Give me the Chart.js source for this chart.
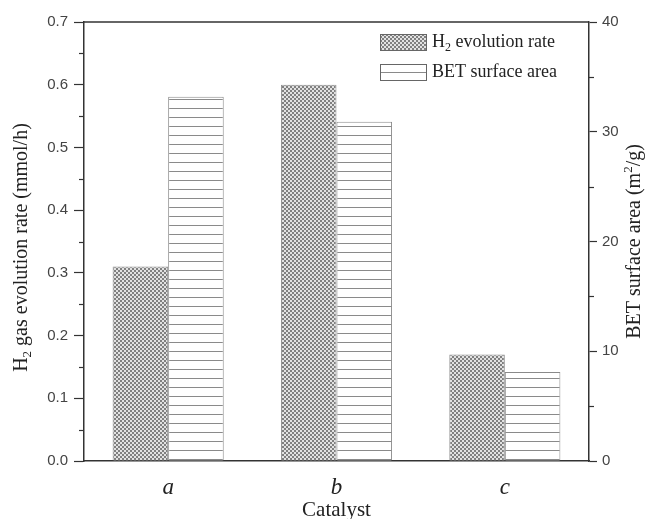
<!DOCTYPE html>
<html>
<head>
<meta charset="utf-8">
<script src="https://cdn.jsdelivr.net/npm/chart.js@4.4.1/dist/chart.umd.min.js"></script>
<style>body{margin:0;background:#fff}</style>
</head>
<body>
<canvas id="grafica" width="653" height="519"></canvas>
<script>
// datos
const catalizadores = ['a', 'b', 'c'];
const tasaH2 = [0.31, 0.60, 0.17];
const areaBET = [33.2, 30.9, 8.1];
const menoresIzq = [0.05, 0.15, 0.25, 0.35, 0.45, 0.55, 0.65];
const menoresDer = [5, 15, 25, 35];

const serif = '"Liberation Serif", "Times New Roman", serif';
const sans = '"Liberation Sans", Arial, sans-serif';

function patronCuadros() {
  const c = document.createElement('canvas');
  c.width = 4; c.height = 4;
  const x = c.getContext('2d');
  x.fillStyle = '#e2e2e2'; x.fillRect(0, 0, 4, 4);
  x.fillStyle = '#808080'; x.fillRect(0, 0, 2, 2); x.fillRect(2, 2, 2, 2);
  return x.createPattern(c, 'repeat');
}
function patronLineas() {
  const c = document.createElement('canvas');
  c.width = 4; c.height = 9;
  const x = c.getContext('2d');
  x.fillStyle = '#ffffff'; x.fillRect(0, 0, 4, 9);
  x.fillStyle = '#8a8a8a'; x.fillRect(0, 0, 4, 1);
  return x.createPattern(c, 'repeat');
}

// texto con subindice / superindice: partes = [[texto, 'n'|'sub'|'sup'], ...]
function textoRico(ctx, partes, size, x, y, centrado) {
  const chico = Math.round(size * 0.65);
  let total = 0;
  partes.forEach(p => {
    ctx.font = (p[1] == 'n' ? size : chico) + 'px ' + serif;
    total += ctx.measureText(p[0]).width;
  });
  let cx = centrado ? x - total / 2 : x;
  ctx.textBaseline = 'middle';
  ctx.textAlign = 'left';
  partes.forEach(p => {
    ctx.font = (p[1] == 'n' ? size : chico) + 'px ' + serif;
    let dy = 0;
    if (p[1] == 'sub') dy = size * 0.3;
    if (p[1] == 'sup') dy = -size * 0.3;
    ctx.fillText(p[0], cx, y + dy);
    cx += ctx.measureText(p[0]).width;
  });
}

const extras = {
  id: 'extras',
  afterDraw(chart) {
    const ctx = chart.ctx;
    const a = chart.chartArea;
    const y = chart.scales.y, y1 = chart.scales.y1;
    ctx.save();
    ctx.strokeStyle = '#333';
    ctx.lineWidth = 1.5;
    ctx.beginPath();
    ctx.moveTo(a.left, a.top); ctx.lineTo(a.right, a.top);
    ctx.stroke();
    ctx.lineWidth = 1.2;
    menoresIzq.forEach(v => {
      const py = Math.round(y.getPixelForValue(v)) + 0.5;
      ctx.beginPath(); ctx.moveTo(a.left - 5, py); ctx.lineTo(a.left, py); ctx.stroke();
    });
    menoresDer.forEach(v => {
      const py = Math.round(y1.getPixelForValue(v)) + 0.5;
      ctx.beginPath(); ctx.moveTo(a.right, py); ctx.lineTo(a.right + 5, py); ctx.stroke();
    });

    ctx.fillStyle = '#222';
    const medio = (a.top + a.bottom) / 2;
    ctx.save();
    ctx.translate(22, medio + 6);
    ctx.rotate(-Math.PI / 2);
    textoRico(ctx, [['H', 'n'], ['2', 'sub'], [' gas evolution rate (mmol/h)', 'n']], 20, 0, 0, true);
    ctx.restore();
    ctx.save();
    ctx.translate(635, medio);
    ctx.rotate(-Math.PI / 2);
    textoRico(ctx, [['BET surface area (m', 'n'], ['2', 'sup'], ['/g)', 'n']], 20, 0, 0, true);
    ctx.restore();
    textoRico(ctx, [['Catalyst', 'n']], 21, (a.left + a.right) / 2, 510, true);

    // leyenda
    const ds = chart.data.datasets;
    const filas = [[['H', 'n'], ['2', 'sub'], [' evolution rate', 'n']], [['BET surface area', 'n']]];
    ds.forEach((d, i) => {
      const ty = 34 + i * 30;
      ctx.fillStyle = d.backgroundColor;
      ctx.fillRect(380, ty, 47, 17);
      ctx.strokeStyle = '#666';
      ctx.lineWidth = 1;
      ctx.strokeRect(380.5, ty + 0.5, 46, 16);
      ctx.fillStyle = '#222';
      textoRico(ctx, filas[i], 18, 432, ty + 8.5, false);
    });
    ctx.restore();
  }
};

new Chart(document.getElementById('grafica'), {
  type: 'bar',
  data: {
    labels: catalizadores,
    datasets: [{
      label: 'H2 evolution rate',
      data: tasaH2,
      yAxisID: 'y',
      backgroundColor: patronCuadros(),
      borderColor: '#909090',
      borderWidth: 1
    },
    {
      label: 'BET surface area',
      data: areaBET,
      yAxisID: 'y1',
      backgroundColor: patronLineas(),
      borderColor: '#8a8a8a',
      borderWidth: 1
    }]
  },
  options: {
    responsive: false,
    animation: false,
    categoryPercentage: 0.66,
    barPercentage: 1.0,
    layout: { padding: { top: 22, left: 0, right: 0, bottom: 0 } },
    plugins: {
      legend: { display: false },
      tooltip: { enabled: false }
    },
    scales: {
      x: {
        position: 'bottom',
        grid: { display: false },
        border: { display: true, color: '#333', width: 1.5 },
        ticks: { color: '#222', padding: 5, font: { family: serif, size: 23, style: 'italic' } },
        afterFit: s => { s.height = 58; }
      },
      y: {
        position: 'left',
        min: 0,
        max: 0.7,
        grid: { drawOnChartArea: false, drawTicks: true, tickLength: 10, tickColor: '#333', tickWidth: 1.2 },
        border: { display: true, color: '#333', width: 1.5 },
        ticks: {
          stepSize: 0.1,
          color: '#444',
          padding: 6,
          font: { family: sans, size: 15 },
          callback: v => Number(v).toFixed(1)
        },
        afterFit: s => { s.width = 84; }
      },
      y1: {
        position: 'right',
        min: 0,
        max: 40,
        grid: { drawOnChartArea: false, drawTicks: true, tickLength: 8, tickColor: '#333', tickWidth: 1.2 },
        border: { display: true, color: '#333', width: 1.5 },
        ticks: { stepSize: 10, color: '#444', padding: 5, font: { family: sans, size: 15 } },
        afterFit: s => { s.width = 64; }
      }
    }
  },
  plugins: [extras]
});
</script>
</body>
</html>
